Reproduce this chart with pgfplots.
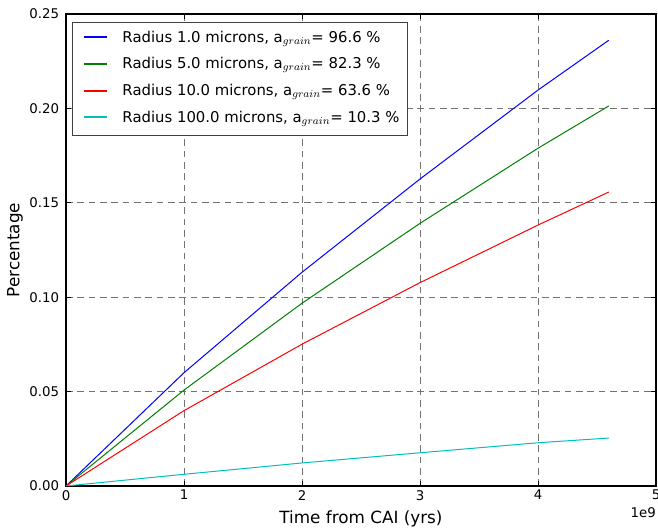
\documentclass[border=0pt]{standalone}
\usepackage{fontspec}
\setmainfont{DejaVu Sans}
\usepackage{pgfplots}
\pgfplotsset{compat=1.18}
\usetikzlibrary{calc}
\definecolor{mblue}{rgb}{0,0,1}
\definecolor{mgreen}{rgb}{0,0.5,0}
\definecolor{mred}{rgb}{1,0,0}
\definecolor{mcyan}{rgb}{0,0.75,0.75}
\begin{document}
\begin{tikzpicture}
\begin{axis}[
  name=ax,
  scale only axis,
  width=442.5pt, height=354pt,
  xmin=0, xmax=5e9, ymin=0, ymax=0.25,
  xtick={0,1e9,2e9,3e9,4e9,5e9},
  xticklabels={0,1,2,3,4,5},
  scaled x ticks=false,
  ytick={0,0.05,0.10,0.15,0.20,0.25},
  scaled y ticks=false,
  yticklabel style={/pgf/number format/fixed,/pgf/number format/fixed zerofill,/pgf/number format/precision=2, inner sep=0pt, xshift=-5pt},
  xticklabel style={inner sep=0pt, yshift=-3pt},
  /pgf/number format/assume math mode=true,
  tick label style={font=\fontsize{10}{12}\selectfont},
  tick align=inside,
  tick pos=both,
  major tick length=3.75pt,
  every tick/.style={black, line width=0.6pt},
  axis line style={line width=1.2pt},
  grid=major,
  major grid style={black!55, line width=0.6pt, dash pattern=on 5pt off 3.5pt},
  xlabel={Time from CAI (yrs)},
  ylabel={Percentage},
  label style={font=\fontsize{12.6}{14}\selectfont},
  xlabel style={at={(axis description cs:0.5,-0.07)}, anchor=center},
  ylabel style={at={(axis description cs:-0.0864,0.5)}, anchor=center, rotate=0},
  legend style={at={(axis description cs:0.0102,0.9838)}, anchor=north west,
    draw=black!75, line width=0.7pt, fill=white, font=\fontsize{11.15}{13}\selectfont,
    row sep=8pt, inner xsep=6pt, inner ysep=6.5pt,
    nodes={inner sep=0pt, text height=8.5pt, text depth=3.5pt}},
  legend cell align=left,
  legend image code/.code={\path[draw=none,fill=none] (0pt,0pt) rectangle (31.5pt,0pt);\draw[#1, line width=1.5pt] (3pt,1pt) -- (20.25pt,1pt);},
]
\addplot[mblue, line width=0.75pt] coordinates {(0,0) (1e9,0.0600) (2e9,0.1132) (3e9,0.1626) (4e9,0.2097) (4.6e9,0.2361)};
\addlegendentry{Radius 1.0 microns, a$_{grain}$= 96.6 \%}
\addplot[mgreen, line width=0.75pt] coordinates {(0,0) (1e9,0.0508) (2e9,0.0968) (3e9,0.1391) (4e9,0.1789) (4.6e9,0.2013)};
\addlegendentry{Radius 5.0 microns, a$_{grain}$= 82.3 \%}
\addplot[mred, line width=0.75pt] coordinates {(0,0) (1e9,0.0399) (2e9,0.0751) (3e9,0.1077) (4e9,0.1382) (4.6e9,0.1557)};
\addlegendentry{Radius 10.0 microns, a$_{grain}$= 63.6 \%}
\addplot[mcyan, line width=0.75pt] coordinates {(0,0) (1e9,0.0062) (2e9,0.0122) (3e9,0.0176) (4e9,0.0229) (4.6e9,0.0254)};
\addlegendentry{Radius 100.0 microns, a$_{grain}$= 10.3 \%}
\end{axis}
\node[anchor=north east, inner sep=0pt, font=\fontsize{10}{12}\selectfont] at ($(ax.south east)+(0,-16pt)$) {1e9};
\pgfresetboundingbox
\path[use as bounding box] ($(ax.south west)+(-49.5pt,-32.25pt)$) rectangle ($(ax.north east)+(1.5pt,10.5pt)$);
\end{tikzpicture}
\end{document}
